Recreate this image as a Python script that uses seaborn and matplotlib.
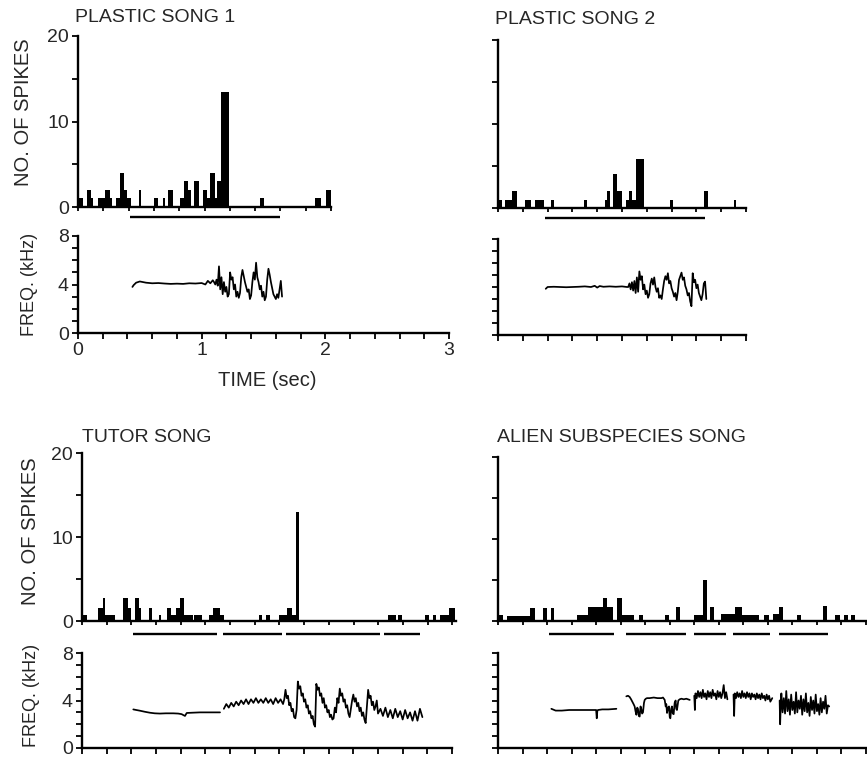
import numpy as np
import pandas as pd
import matplotlib
matplotlib.use("Agg")
import matplotlib.pyplot as plt
import seaborn as sns

sns.set_style("ticks")
plt.rcParams['font.family'] = ['Liberation Sans', 'DejaVu Sans']

# ---------------- spike histograms: bin edges (s) and counts per bin ----------------
ps1_edges = [0.00, 0.04, 0.07, 0.10, 0.12, 0.16, 0.21, 0.25, 0.27, 0.30, 0.33, 0.36, 0.39, 0.42,
             0.48, 0.50, 0.60, 0.63, 0.67, 0.69, 0.71, 0.75, 0.81, 0.84, 0.87, 0.89, 0.92, 0.96,
             0.99, 1.02, 1.04, 1.08, 1.10, 1.13, 1.19, 1.44, 1.47, 1.87, 1.92, 1.96, 2.00]
ps1_counts = [1, 0, 2, 1, 0, 1, 2, 1, 0, 1, 4, 2, 1, 0, 2, 0, 1, 0, 1, 0, 2, 0, 1, 3, 2, 0, 3, 0,
              2, 1, 4, 1, 3, 13.5, 0, 1, 0, 1, 0, 2]

ps2_edges = [0.00, 0.03, 0.06, 0.11, 0.15, 0.22, 0.27, 0.30, 0.37, 0.43, 0.45, 0.69, 0.72, 0.86,
             0.88, 0.90, 0.93, 0.96, 1.00, 1.03, 1.06, 1.08, 1.11, 1.18, 1.39, 1.41, 1.66, 1.69,
             1.90, 1.92, 2.00]
ps2_counts = [1, 0, 1, 2, 0, 1, 0, 1, 0, 1, 0, 1, 0, 1, 2, 0, 4, 2, 0, 1, 2, 1, 5.8, 0, 1, 0, 2, 0,
              1, 0]

tutor_edges = [0.00, 0.01, 0.04, 0.13, 0.17, 0.19, 0.27, 0.33, 0.37, 0.40, 0.43, 0.46, 0.48, 0.54,
               0.57, 0.62, 0.64, 0.69, 0.72, 0.76, 0.79, 0.83, 0.90, 0.91, 0.97, 1.03, 1.06, 1.12,
               1.15, 1.43, 1.46, 1.49, 1.52, 1.60, 1.66, 1.70, 1.73, 1.76, 2.48, 2.54, 2.56, 2.59,
               2.78, 2.81, 2.84, 2.87, 2.90, 2.97, 3.02]
tutor_counts = [0, 0.7, 0, 1.6, 2.7, 0.7, 0, 2.7, 1.6, 0, 2.7, 1.6, 0, 1.6, 0, 0.7, 0, 1.6, 0.7,
                1.6, 2.7, 0.7, 0, 0.7, 0, 0.7, 1.6, 0.7, 0, 0.7, 0, 0.7, 0, 0.7, 1.6, 0.7, 13, 0,
                0.7, 0, 0.7, 0, 0.7, 0, 0.7, 0, 0.7, 1.6]

alien_edges = [0.00, 0.01, 0.04, 0.07, 0.26, 0.30, 0.37, 0.40, 0.43, 0.46, 0.64, 0.73, 0.86, 0.89,
               0.94, 0.97, 1.01, 1.11, 1.15, 1.18, 1.36, 1.39, 1.45, 1.48, 1.60, 1.67, 1.70, 1.73,
               1.76, 1.82, 1.93, 1.99, 2.13, 2.17, 2.21, 2.24, 2.29, 2.32, 2.44, 2.47, 2.65, 2.68,
               2.75, 2.79, 2.82, 2.85, 2.88, 2.91, 3.00]
alien_counts = [0, 0.7, 0, 0.6, 1.6, 0, 1.6, 0, 1.6, 0, 0.7, 1.7, 2.8, 1.7, 0, 2.8, 0.7, 0, 0.7, 0,
                0.7, 0, 1.7, 0, 0.7, 5.0, 0, 1.7, 0, 0.8, 1.7, 0.7, 0, 0.7, 0, 0.8, 1.7, 0, 0.7, 0,
                1.8, 0, 0.7, 0, 0.7, 0, 0.7, 0]

# song / syllable bars under each histogram (start, stop in s)
ps1_syl_on, ps1_syl_off = [0.41], [1.60]
ps2_syl_on, ps2_syl_off = [0.38], [1.67]
tutor_syl_on = [0.416, 1.14, 1.654, 2.444]
tutor_syl_off = [1.097, 1.62, 2.417, 2.74]
alien_syl_on = [0.416, 1.04, 1.60, 1.916, 2.29]
alien_syl_off = [0.943, 1.535, 1.86, 2.215, 2.69]

# ---------------- sonogram frequency traces (time s, kHz) ----------------
ps1_t = [0.44, 0.45, 0.47, 0.50, 0.55, 0.60, 0.65, 0.70, 0.75, 0.80, 0.85, 0.90, 0.95, 1.00,
         1.03, 1.05, 1.07, 1.09,
         1.10, 1.11, 1.12, 1.13, 1.14, 1.15, 1.16, 1.17, 1.18, 1.19, 1.20, 1.21, 1.22, 1.23,
         1.24, 1.25, 1.26, 1.27, 1.28, 1.29, 1.30, 1.31, 1.32, 1.33, 1.34, 1.35, 1.36, 1.37,
         1.38, 1.39, 1.40, 1.41, 1.42, 1.43, 1.44, 1.45, 1.46, 1.47, 1.48, 1.49, 1.50, 1.51,
         1.52, 1.53, 1.54, 1.55, 1.56, 1.57, 1.58, 1.59, 1.60, 1.61, 1.62, 1.63, 1.64, 1.65]
ps1_f = [3.8, 3.95, 4.15, 4.25, 4.15, 4.1, 4.12, 4.08, 4.05, 4.07, 4.05, 4.1, 4.08, 4.12,
         4.0, 4.3, 4.1, 4.35,
         4.2, 4.0, 4.4, 3.9, 5.5, 3.6, 4.6, 3.2, 4.2, 3.4, 3.8, 3.0, 3.2, 5.0,
         4.4, 4.6, 3.6, 4.0, 3.0, 3.4, 2.9, 3.3, 4.6, 5.2, 4.7, 4.2, 3.8, 3.4,
         3.6, 2.8, 3.1, 4.2, 5.0, 4.4, 5.8, 4.6, 4.2, 3.6, 3.9, 3.0, 3.4, 2.7,
         3.0, 4.4, 5.3, 4.8, 4.2, 3.7, 3.2, 3.0, 2.8, 3.2, 2.9, 3.6, 4.3, 3.0]

ps2_t = [0.385, 0.40, 0.45, 0.50, 0.55, 0.60, 0.65, 0.70, 0.75, 0.78, 0.80, 0.82, 0.85, 0.90,
         0.95, 1.00, 1.04,
         1.05, 1.06, 1.07, 1.08, 1.09, 1.10, 1.11, 1.12, 1.13, 1.14, 1.15, 1.16, 1.17, 1.18,
         1.19, 1.20, 1.21, 1.22, 1.23, 1.24, 1.25, 1.26, 1.27, 1.28, 1.29, 1.30, 1.31, 1.32,
         1.33, 1.34, 1.35, 1.36, 1.37, 1.38, 1.39, 1.40, 1.41, 1.42, 1.43, 1.44, 1.45, 1.46,
         1.47, 1.48, 1.49, 1.50, 1.51, 1.52, 1.53, 1.54, 1.55, 1.56, 1.57, 1.58, 1.59, 1.60,
         1.61, 1.62, 1.63, 1.64, 1.65, 1.66, 1.67, 1.68]
ps2_f = [3.85, 4.0, 4.02, 4.0, 3.98, 4.0, 4.02, 4.05, 4.0, 4.1, 3.95, 4.08, 4.02, 4.05,
         4.02, 4.05, 4.0,
         4.0, 4.3, 3.8, 4.4, 3.7, 4.5, 3.5, 4.8, 3.6, 5.3, 4.6, 4.9, 3.8, 4.2,
         3.4, 3.7, 3.1, 3.4, 4.3, 4.7, 4.2, 4.8, 4.0, 3.6, 3.9, 3.1, 3.3, 3.0,
         3.8, 4.5, 4.9, 4.6, 5.15, 4.3, 4.5, 3.9, 3.6, 3.2, 3.5, 2.9, 3.6, 4.6,
         4.9, 5.2, 4.6, 4.8, 4.1, 3.8, 3.3, 3.5, 2.8, 2.4, 5.15, 4.4, 4.6, 3.9,
         4.2, 3.5, 3.2, 2.9, 3.4, 4.3, 4.45, 3.0]

tutor_a_t = [0.416, 0.44, 0.47, 0.51, 0.551, 0.59, 0.632, 0.68, 0.74, 0.78, 0.808, 0.82, 0.835,
             0.849, 0.889, 0.957, 1.038, 1.119]
tutor_a_f = [3.25, 3.2, 3.14, 3.05, 2.97, 2.92, 2.9, 2.92, 2.92, 2.9, 2.85, 2.78, 2.7,
             2.95, 2.97, 3.0, 3.0, 3.0]

tutor_b_t = [1.15, 1.17, 1.19, 1.21, 1.23, 1.25, 1.27, 1.29, 1.31, 1.33, 1.35, 1.37, 1.39, 1.41,
             1.43, 1.45, 1.47, 1.49, 1.51, 1.53, 1.55, 1.57, 1.59, 1.61, 1.63,
             1.64, 1.65, 1.66, 1.67, 1.68, 1.69, 1.70, 1.71, 1.72, 1.73,
             1.74, 1.75, 1.76, 1.77, 1.78, 1.79, 1.80, 1.81, 1.82, 1.83,
             1.84, 1.85, 1.86, 1.87, 1.88, 1.89, 1.90, 1.91, 1.92, 1.93,
             1.94, 1.95, 1.96, 1.97, 1.98, 1.99, 2.00, 2.01, 2.02, 2.03,
             2.04, 2.05, 2.06, 2.07, 2.08, 2.09, 2.10, 2.11, 2.12, 2.13,
             2.14, 2.15, 2.16, 2.17, 2.18, 2.19, 2.20, 2.21, 2.22, 2.23,
             2.24, 2.25, 2.26, 2.27, 2.28, 2.29, 2.30, 2.31, 2.32, 2.33,
             2.34, 2.35, 2.36, 2.37, 2.38, 2.39, 2.40,
             2.42, 2.44, 2.46, 2.48, 2.50, 2.52, 2.54, 2.56, 2.58, 2.60, 2.62, 2.64, 2.66,
             2.68, 2.70, 2.72, 2.74, 2.76]
tutor_b_f = [3.3, 3.7, 3.4, 3.8, 3.5, 3.9, 3.6, 4.0, 3.7, 4.1, 3.7, 4.1, 3.8, 4.2,
             3.8, 4.1, 3.8, 4.2, 3.8, 4.1, 3.7, 4.2, 3.8, 4.1, 3.7,
             4.1, 4.9, 4.2, 4.4, 3.6, 3.8, 3.1, 3.3, 2.6, 2.5,
             3.2, 5.6, 5.0, 5.2, 4.4, 4.6, 3.9, 4.1, 3.4, 3.6,
             2.9, 3.1, 2.5, 2.7, 2.0, 1.8, 5.4, 4.9, 5.1, 4.4,
             4.6, 3.8, 4.2, 3.4, 3.6, 3.0, 3.2, 2.6, 2.8, 2.4,
             2.5, 3.4, 3.0, 4.2, 3.8, 5.0, 4.4, 4.6, 3.9, 4.1,
             3.4, 3.6, 2.9, 2.6, 3.3, 4.0, 4.5, 3.9, 4.2, 3.5,
             3.8, 3.1, 3.4, 2.7, 3.0, 2.4, 2.1, 3.5, 4.9, 4.2,
             4.4, 3.6, 3.9, 3.2, 3.5, 4.0, 2.9,
             3.3, 2.7, 3.4, 2.6, 3.2, 2.5, 3.3, 2.6, 3.1, 2.4, 3.2, 2.5, 3.0,
             2.3, 3.1, 2.3, 3.3, 2.6]

alien_a_t = [0.435, 0.47, 0.52, 0.58, 0.65, 0.72, 0.80, 0.805, 0.81, 0.815, 0.85, 0.90, 0.965]
alien_a_f = [3.3, 3.15, 3.15, 3.2, 3.2, 3.2, 3.2, 2.5, 3.15, 3.2, 3.25, 3.25, 3.3]

alien_b_t = [1.046, 1.06, 1.073, 1.085, 1.095, 1.105, 1.114, 1.121, 1.128, 1.135,
             1.141, 1.148, 1.155, 1.162, 1.168, 1.175, 1.182, 1.19, 1.196, 1.205,
             1.215, 1.236, 1.27, 1.30, 1.332, 1.345, 1.359, 1.367, 1.372, 1.378,
             1.386, 1.394, 1.40, 1.405, 1.412, 1.418, 1.425, 1.432, 1.44, 1.448,
             1.453, 1.459, 1.47, 1.481, 1.495, 1.515, 1.535, 1.563]
alien_b_f = [4.35, 4.4, 4.3, 4.1, 3.9, 3.7, 3.5, 3.1, 2.8, 3.4,
             3.3, 2.7, 2.65, 3.5, 3.3, 2.9, 3.0, 3.8, 4.05, 4.15,
             4.2, 4.2, 4.25, 4.2, 4.2, 4.25, 4.05, 3.5, 3.7, 2.95,
             3.4, 3.5, 2.6, 2.5, 3.3, 3.5, 2.9, 2.85, 3.8, 4.0,
             3.3, 3.2, 4.0, 4.1, 4.15, 4.1, 4.15, 4.05]

alien_c_t = [1.600, 1.605, 1.61, 1.62, 1.63, 1.64, 1.65, 1.66, 1.67, 1.68, 1.69, 1.70, 1.71,
             1.72, 1.73, 1.74, 1.75, 1.76, 1.77, 1.78, 1.79, 1.80, 1.81, 1.82, 1.83, 1.84,
             1.85, 1.86, 1.87]
alien_c_f = [4.4, 3.2, 4.6, 4.2, 4.8, 4.3, 4.7, 4.2, 4.9, 4.3, 4.6, 4.1, 4.8,
             4.3, 4.7, 4.2, 4.9, 4.4, 4.6, 4.1, 4.8, 4.3, 4.7, 4.2, 4.6, 5.3,
             4.2, 4.7, 4.1]

alien_d_t = [1.92, 1.925, 1.93, 1.94, 1.95, 1.96, 1.97, 1.98, 1.99, 2.00, 2.01, 2.02, 2.03,
             2.04, 2.05, 2.06, 2.07, 2.08, 2.09, 2.10, 2.11, 2.12, 2.13, 2.14, 2.15, 2.16,
             2.17, 2.18, 2.19, 2.20, 2.21, 2.22, 2.236]
alien_d_f = [4.5, 2.7, 4.6, 4.2, 4.7, 4.3, 4.6, 4.2, 4.8, 4.3, 4.6, 4.2, 4.7,
             4.3, 4.6, 4.1, 4.6, 4.3, 4.5, 4.1, 4.6, 4.2, 4.5, 4.1, 4.6, 4.2,
             4.4, 4.0, 4.5, 4.1, 4.4, 3.9, 4.2]

alien_e_t = [2.296, 2.30, 2.305, 2.31, 2.32, 2.33, 2.34, 2.35, 2.36, 2.37, 2.38, 2.39, 2.40,
             2.41, 2.42, 2.43, 2.44, 2.45, 2.46, 2.47, 2.48, 2.49, 2.50, 2.51, 2.52, 2.53,
             2.54, 2.55, 2.56, 2.57, 2.58, 2.59, 2.60, 2.61, 2.62, 2.63, 2.64, 2.65, 2.66,
             2.67, 2.68, 2.69, 2.70]
alien_e_f = [4.0, 2.0, 3.6, 4.6, 3.0, 4.2, 2.9, 4.8, 3.1, 4.1, 2.8, 4.5, 3.2,
             3.9, 2.9, 4.7, 3.0, 4.0, 3.3, 4.4, 2.8, 4.1, 3.1, 4.6, 3.0, 3.8,
             2.7, 4.3, 3.2, 4.0, 2.9, 4.5, 3.1, 3.7, 2.8, 4.2, 3.0, 3.9, 3.3,
             4.4, 2.9, 3.6, 3.5]

# ---------------- layout (pixel boxes: left, top, right, bottom) ----------------
W, H = 867, 767
fig = plt.figure(figsize=(W / 100, H / 100), dpi=100)


def add_ax(l, t, r, b):
    return fig.add_axes([l / W, 1 - b / H, (r - l) / W, (b - t) / H])


def style_ax(ax):
    sns.despine(ax=ax)
    for s in ['left', 'bottom']:
        ax.spines[s].set_linewidth(1.7)
        ax.spines[s].set_color('black')
    ax.tick_params(which='both', direction='out', length=4.5, width=1.3,
                   color='black', labelsize=14, pad=2)
    ax.set_xlabel('')
    ax.set_ylabel('')


def tick_labels(vals, keep):
    return [f"{v:g}" if any(abs(v - k) < 1e-6 for k in keep) else "" for v in vals]


def draw_psth(ax, edges, counts, on, off, xmax, box, line_off, labels):
    mids = [(a + b) / 2 for a, b in zip(edges[:-1], edges[1:])]
    assert len(mids) == len(counts)
    df = pd.DataFrame({'t': mids, 'n': counts})
    sns.histplot(data=df, x='t', weights='n', bins=list(edges), color='black', alpha=1,
                 linewidth=0, ax=ax)
    ax.hlines([-line_off / (box[3] - box[1])] * len(on), on, off, color='black', lw=1.7,
              transform=ax.get_xaxis_transform(), clip_on=False)
    ax.set_xlim(0, xmax)
    ax.set_ylim(0, 20)
    ax.set_xticks(np.arange(0, xmax + 1e-6, 0.2))
    ax.set_xticklabels([])
    ax.set_yticks([0, 10, 20])
    ax.set_yticks([5, 15], minor=True)
    ax.set_yticklabels(['0', '10', '20'] if labels else [])
    style_ax(ax)
    ax.tick_params(axis='x', length=3)


def draw_freq(ax, traces, xmax, ylabels, xlabels):
    for t, f in traces:
        assert len(t) == len(f)
        sns.lineplot(x=t, y=f, color='black', lw=1.25, estimator=None, sort=False, ax=ax)
    ax.set_xlim(0, xmax)
    ax.set_ylim(0, 8)
    xt = np.arange(0, xmax + 1e-6, 0.2)
    ax.set_xticks(xt)
    ax.set_xticklabels(tick_labels(xt, [0, 1, 2, 3]) if xlabels else [])
    ax.set_yticks(range(9))
    ax.set_yticklabels(tick_labels(range(9), [0, 4, 8]) if ylabels else [])
    style_ax(ax)


boxes = {
    'ps1_h': (78, 36, 331, 207), 'ps1_f': (78, 236, 449, 333),
    'ps2_h': (498, 40, 746, 208), 'ps2_f': (498, 239, 746, 335),
    'tut_h': (82, 453, 456, 621), 'tut_f': (82, 653, 452, 748),
    'ali_h': (498, 457, 866, 621), 'ali_f': (498, 653, 866, 748),
}
axs = {k: add_ax(*v) for k, v in boxes.items()}

draw_psth(axs['ps1_h'], ps1_edges, ps1_counts, ps1_syl_on, ps1_syl_off, 2.0, boxes['ps1_h'], 10, True)
draw_psth(axs['ps2_h'], ps2_edges, ps2_counts, ps2_syl_on, ps2_syl_off, 2.0, boxes['ps2_h'], 10, False)
draw_psth(axs['tut_h'], tutor_edges, tutor_counts, tutor_syl_on, tutor_syl_off, 3.03, boxes['tut_h'], 13, True)
draw_psth(axs['ali_h'], alien_edges, alien_counts, alien_syl_on, alien_syl_off, 3.0, boxes['ali_h'], 13, False)

draw_freq(axs['ps1_f'], [(ps1_t, ps1_f)], 3.0, True, True)
draw_freq(axs['ps2_f'], [(ps2_t, ps2_f)], 2.0, False, False)
draw_freq(axs['tut_f'], [(tutor_a_t, tutor_a_f), (tutor_b_t, tutor_b_f)], 3.0, True, False)
draw_freq(axs['ali_f'], [(alien_a_t, alien_a_f), (alien_b_t, alien_b_f), (alien_c_t, alien_c_f),
                         (alien_d_t, alien_d_f), (alien_e_t, alien_e_f)], 3.0, False, False)


def ftext(x, y, s, **kw):
    fig.text(x / W, 1 - y / H, s, **kw)


ftext(75, 22, 'PLASTIC SONG 1', fontsize=14, ha='left', va='baseline')
ftext(495, 24, 'PLASTIC SONG 2', fontsize=14, ha='left', va='baseline')
ftext(82, 442, 'TUTOR SONG', fontsize=14, ha='left', va='baseline')
ftext(497, 442, 'ALIEN SUBSPECIES SONG', fontsize=14, ha='left', va='baseline')

ftext(24, 112, 'NO. OF SPIKES', fontsize=14.5, rotation=90, ha='center', va='center')
ftext(30, 531, 'NO. OF SPIKES', fontsize=14.5, rotation=90, ha='center', va='center')
ftext(30, 284, 'FREQ. (kHz)', fontsize=13, rotation=90, ha='center', va='center')
ftext(32, 695, 'FREQ. (kHz)', fontsize=13, rotation=90, ha='center', va='center')
ftext(267, 380, 'TIME (sec)', fontsize=14.5, ha='center', va='center')

fig.savefig('out.png', dpi=100, facecolor='white')
